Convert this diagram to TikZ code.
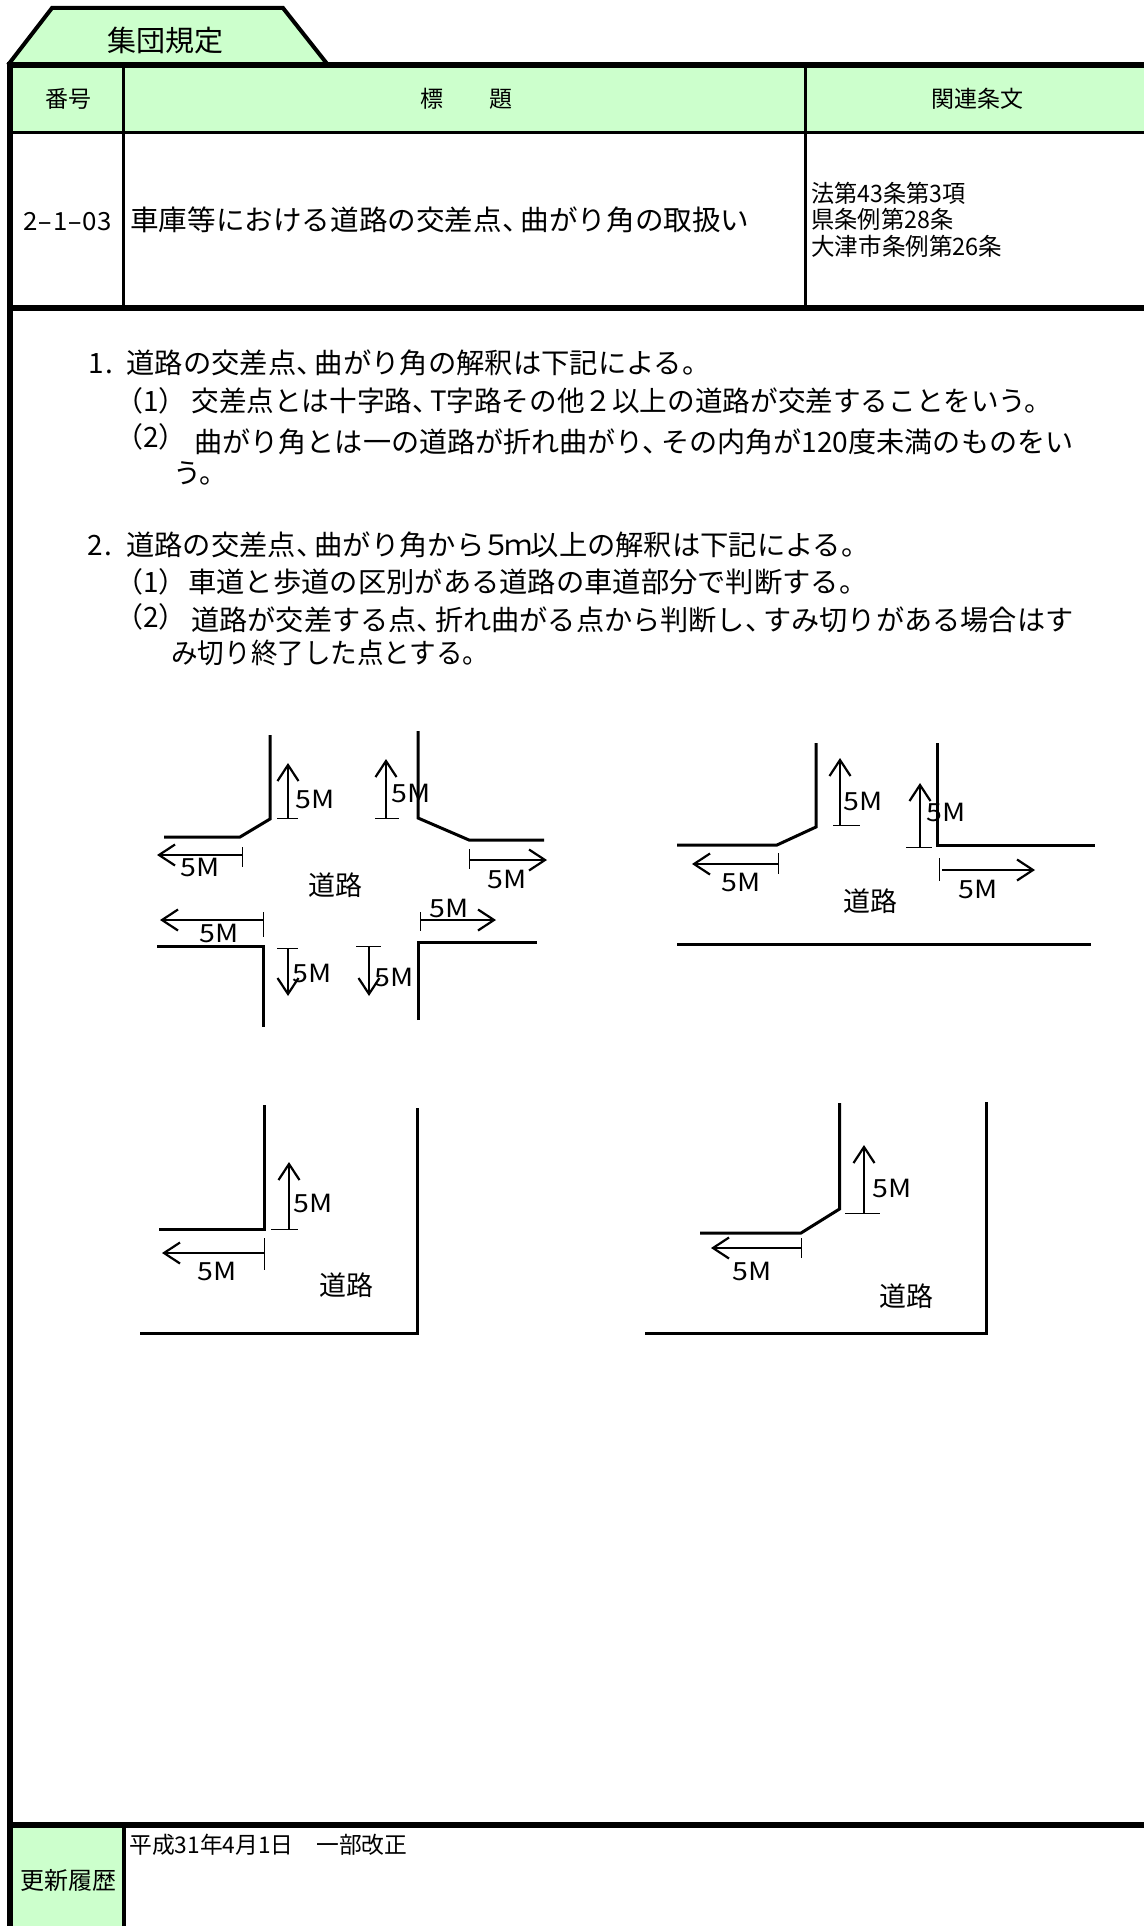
\documentclass[tikz,border=0pt]{standalone}
\usepackage{fontspec}
\usepackage{graphicx}
\setmainfont{Noto Sans CJK JP}
\usetikzlibrary{arrows.meta}
\definecolor{hdrgreen}{HTML}{CCFFCC}
\newcommand\fsz[1]{\fontsize{#1pt}{#1pt}\selectfont}
\newcommand\fw[2]{\resizebox{\dimexpr #1pt/2\relax}{\height}{#2}}
\newcommand\bx[2]{\makebox[\dimexpr #1pt/2\relax][l]{#2}}
\newcommand\tn{、\kern-.35em}
\newcommand\wh{\scalebox{1.7}[1]{-}}
\newcommand\fivelabel{\fw{39}{5M}}
\tikzset{
  frame/.style={line width=3pt,line cap=butt},
  thin rule/.style={line width=1.5pt},
  road/.style={line width=1.5pt,line cap=butt,line join=miter},
  dimarrow/.style={line width=1.1pt,-{Straight Barb[length=8pt,width=10.5pt,line width=1.1pt]}},
  tickline/.style={line width=0.5pt},
  bodytext/.style={inner sep=0pt,anchor=base west,font=\fsz{14}},
  headtext/.style={inner sep=0pt,anchor=center,font=\fsz{11.5}},
  lawtext/.style={inner sep=0pt,anchor=base west,font=\fsz{12}},
  fivem/.style={inner sep=0pt,anchor=center,font=\fsz{12.5}},
  roadname/.style={inner sep=0pt,anchor=center,font=\fsz{13.5}},
}
\begin{document}
\begin{tikzpicture}[x=0.5pt,y=-0.5pt]
\useasboundingbox (0,0) rectangle (1144,1926);
\fill[white] (0,0) rectangle (1144,1926);
% tab
\filldraw[fill=hdrgreen,draw=black,line width=2pt,line join=miter] (8,65) -- (52,8) -- (283,8) -- (328,65);
\node[inner sep=0pt,anchor=center,font=\fsz{14.5}] (tabtitle) at (165,41) {集団規定};
% header fills
\fill[hdrgreen] (10,65) rectangle (1144,133);
\fill[hdrgreen] (10,1825) rectangle (123,1926);
% table rules
\draw[thin rule] (10,133) -- (1144,133);
\draw[thin rule] (123,65) -- (123,308);
\draw[thin rule] (805.5,65) -- (805.5,308);
\draw[line width=2pt] (123.5,1825) -- (123.5,1926);
\draw[frame] (10,62) -- (10,1926);
\draw[frame] (7,65) -- (1144,65);
\draw[frame] (10,308) -- (1144,308);
\draw[frame] (10,1825) -- (1144,1825);
% header text
\node[headtext] (hno) at (68,99) {番号};
\node[headtext] (htitle) at (466,99) {標　　題};
\node[headtext] (hlaw) at (977,99) {関連条文};
\node[inner sep=0pt,anchor=base west,font=\fsz{12.5}] (rowno) at (23,230) {\fw{88}{2\wh 1\wh 03}};
\node[bodytext] (rowtitle) at (130,231) {\fw{619}{車庫等における道路の交差点\tn 曲がり角の取扱い}};
\node[lawtext] (law1) at (811,203) {\fw{154}{法第43条第3項}};
\node[lawtext] (law2) at (811,229) {\fw{142}{県条例第28条}};
\node[lawtext] (law3) at (811,256) {\fw{191}{大津市条例第26条}};
% body text
\node[bodytext] (p1) at (88,373.5) {\bx{38}{1\kern1pt.}\fw{584}{道路の交差点\tn 曲がり角の解釈は下記による。}};
\node[bodytext] (p1a) at (115,411.5) {\bx{76}{（1）}\fw{861}{交差点とは十字路\tn T字路その他２以上の道路が交差することをいう。}};
\node[bodytext] (p1b) at (115,452.5) {\bx{79}{\raisebox{2.5pt}{（2）}}\fw{879}{曲がり角とは一の道路が折れ曲がり\tn その内角が120度未満のものをい}};
\node[bodytext] (p1c) at (173,483.5) {う。};
\node[bodytext] (p2) at (87,555.5) {\bx{39}{2\kern1pt.}\fw{743}{道路の交差点\tn 曲がり角から\kern-.08em ５\kern-.2em ｍ\kern-.08em 以上の解釈は下記による。}};
\node[bodytext] (p2a) at (115,592.5) {\bx{73}{（1）}\fw{679}{車道と歩道の区別がある道路の車道部分で判断する。}};
\node[bodytext] (p2b) at (115,630.5) {\bx{76}{\raisebox{1.5pt}{（2）}}\fw{882}{道路が交差する点\tn 折れ曲がる点から判断し\tn すみ切りがある場合はす}};
\node[bodytext] (p2c) at (171,663.5) {\fw{318}{み切り終了した点とする。}};
% figure 1: crossroads
\draw[road] (270,735) -- (270,819) -- (240,837) -- (164,837);
\draw[tickline] (277,818) -- (298,818);
\draw[dimarrow] (288,818) -- (288,763);
\node[fivem] (a1) at (315,799) {\fivelabel};
\draw[tickline] (242,847) -- (242,867);
\draw[dimarrow] (242,855) -- (157,855);
\node[fivem] (a2) at (200,867) {\fivelabel};
\draw[road] (418,731) -- (418,818) -- (469,840) -- (544,840);
\draw[tickline] (375,818) -- (399,818);
\draw[dimarrow] (386,818) -- (386,759);
\node[fivem] (a3) at (411,793) {\fivelabel};
\draw[tickline] (469,849) -- (469,869);
\draw[dimarrow] (469,860) -- (547,860);
\node[fivem] (a4) at (507,879) {\fivelabel};
\node[roadname] (r1) at (335,885) {道路};
\draw[road] (157,946) -- (263,946) -- (263,1027);
\draw[tickline] (263,912) -- (263,937);
\draw[dimarrow] (263,920) -- (160,920);
\node[fivem] (a5) at (219,933) {\fivelabel};
\draw[tickline] (277,948) -- (298,948);
\draw[dimarrow] (288,948) -- (288,996);
\node[fivem] (a6) at (312,973) {\fivelabel};
\draw[tickline] (356,946) -- (381,946);
\draw[dimarrow] (369,946) -- (369,996);
\node[fivem] (a7) at (394,977) {\fivelabel};
\draw[road] (418,1020) -- (418,942) -- (537,942);
\draw[tickline] (420,912) -- (420,931);
\draw[dimarrow] (420,920) -- (496,920);
\node[fivem] (a8) at (449,908) {\fivelabel};
% figure 2: T junction
\draw[road] (816,743) -- (816,827) -- (777,845) -- (677,845);
\draw[tickline] (833,825) -- (860,825);
\draw[dimarrow] (840,825) -- (840,758);
\node[fivem] (b1) at (863,801) {\fivelabel};
\draw[tickline] (778,853) -- (778,874);
\draw[dimarrow] (778,864) -- (692,864);
\node[fivem] (b2) at (741,882) {\fivelabel};
\draw[road] (937,743) -- (937,845) -- (1095,845);
\draw[tickline] (906,847) -- (932,847);
\draw[dimarrow] (920,847) -- (920,783);
\node[fivem] (b3) at (946,812) {\fivelabel};
\draw[tickline] (939,858) -- (939,881);
\draw[dimarrow] (942,870) -- (1035,870);
\node[fivem] (b4) at (978,889) {\fivelabel};
\node[roadname] (r2) at (870,901) {道路};
\draw[road] (677,944) -- (1091,944);
% figure 3: corner
\draw[road] (264,1105) -- (264,1229) -- (159,1229);
\draw[road] (417,1108) -- (417,1333) -- (140,1333);
\draw[tickline] (271,1229) -- (298,1229);
\draw[dimarrow] (289,1229) -- (289,1162);
\node[fivem] (c1) at (313,1203) {\fivelabel};
\draw[tickline] (264,1238) -- (264,1270);
\draw[dimarrow] (264,1253) -- (162,1253);
\node[fivem] (c2) at (217,1271) {\fivelabel};
\node[roadname] (r3) at (346,1285) {道路};
% figure 4: chamfered corner
\draw[road] (839.5,1103) -- (839.5,1209) -- (801,1233) -- (700,1233);
\draw[road] (986,1102) -- (986,1333) -- (645,1333);
\draw[tickline] (845,1213) -- (880,1213);
\draw[dimarrow] (864,1213) -- (864,1145);
\node[fivem] (d1) at (892,1188) {\fivelabel};
\draw[tickline] (801,1238) -- (801,1258);
\draw[dimarrow] (801,1248) -- (711,1248);
\node[fivem] (d2) at (752,1271) {\fivelabel};
\node[roadname] (r4) at (906,1296) {道路};
% footer
\node[inner sep=0pt,anchor=center,font=\fsz{12}] (fhist) at (68,1880) {更新履歴};
\node[inner sep=0pt,anchor=base west,font=\fsz{11.5}] (fnote) at (129,1853) {\fw{278}{平成31年4月1日　一部改正}};
\end{tikzpicture}
\end{document}
